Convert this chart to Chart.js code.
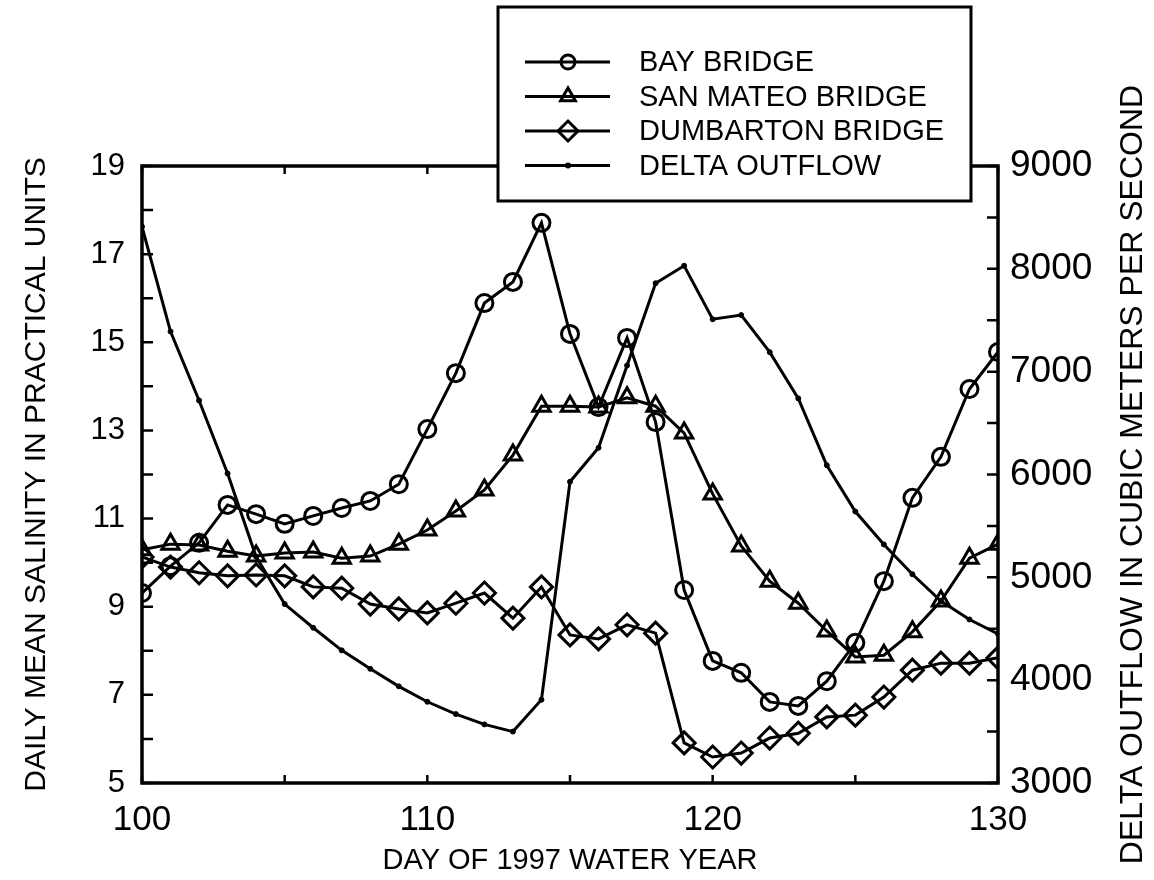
<!DOCTYPE html>
<html>
<head>
<meta charset="utf-8">
<script src="https://cdn.jsdelivr.net/npm/chart.js@4.4.0/dist/chart.umd.min.js"></script>
<style>
  body { margin: 0; background: #ffffff; }
  canvas { display: block; }
</style>
</head>
<body>
<canvas id="grafico" width="1154" height="880"></canvas>
<script>
//-------------------------- dados --------------------------
const dias = [100, 101, 102, 103, 104, 105, 106, 107, 108, 109, 110, 111, 112, 113, 114, 115,
    116, 117, 118, 119, 120, 121, 122, 123, 124, 125, 126, 127, 128, 129, 130];

const bayBridge = [9.31, 9.92, 10.45, 11.31, 11.1, 10.88, 11.06, 11.24, 11.4, 11.78, 13.03,
    14.3, 15.89, 16.37, 17.71, 15.19, 13.53, 15.1, 13.19, 9.38, 7.77, 7.5, 6.84, 6.75, 7.31,
    8.18, 9.58, 11.47, 12.4, 13.94, 14.78];

const sanMateo = [10.29, 10.42, 10.4, 10.26, 10.15, 10.22, 10.24, 10.1, 10.15, 10.42, 10.74,
    11.17, 11.65, 12.44, 13.55, 13.55, 13.53, 13.74, 13.55, 12.94, 11.56, 10.38, 9.58, 9.08,
    8.45, 7.86, 7.9, 8.43, 9.13, 10.1, 10.42];

const dumbarton = [10.13, 9.9, 9.77, 9.7, 9.72, 9.7, 9.45, 9.42, 9.06, 8.95, 8.86, 9.08, 9.31,
    8.74, 9.45, 8.36, 8.27, 8.59, 8.4, 5.91, 5.59, 5.68, 6.02, 6.13, 6.5, 6.54, 6.95, 7.56,
    7.72, 7.72, 7.84];

const deltaOutflow = [8410, 7390, 6720, 6010, 5200, 4740, 4510, 4290, 4110, 3940, 3790, 3670,
    3570, 3500, 3810, 5930, 6260, 7060, 7860, 8030, 7510, 7550, 7190, 6740, 6090, 5640, 5320,
    5030, 4770, 4590, 4450];

const nomesSeries = ["BAY BRIDGE", "SAN MATEO BRIDGE", "DUMBARTON BRIDGE", "DELTA OUTFLOW"];

const ticksX = [100, 110, 120, 130];
const ticksSalinidade = [5, 7, 9, 11, 13, 15, 17, 19];
const ticksVazao = [3000, 4000, 5000, 6000, 7000, 8000, 9000];

const tituloX = "DAY OF 1997 WATER YEAR";
const tituloEsq = "DAILY MEAN SALINITY IN PRACTICAL UNITS";
const tituloDir = "DELTA OUTFLOW IN CUBIC METERS PER SECOND";

//-------------------------- estilo --------------------------
const FONTE = "'Liberation Sans', Arial, sans-serif";
const PRETO = "#000000";
const VAZIO = "rgba(0,0,0,0)";

function pontos(valores) {
    return dias.map((d, i) => ({ x: d, y: valores[i] }));
}

function desenharMarcador(ctx, estilo, x, y, r) {
    ctx.beginPath();
    if (estilo === "circle") {
        ctx.arc(x, y, r, 0, Math.PI * 2);
        ctx.stroke();
    } else if (estilo === "triangle") {
        ctx.moveTo(x, y - r);
        ctx.lineTo(x + r * 0.866, y + r * 0.5);
        ctx.lineTo(x - r * 0.866, y + r * 0.5);
        ctx.closePath();
        ctx.stroke();
    } else if (estilo === "rectRot") {
        ctx.moveTo(x - r, y);
        ctx.lineTo(x, y - r);
        ctx.lineTo(x + r, y);
        ctx.lineTo(x, y + r);
        ctx.closePath();
        ctx.stroke();
    } else {
        ctx.arc(x, y, r, 0, Math.PI * 2);
        ctx.fill();
    }
}

// moldura, ticks para dentro, titulo da direita e legenda
const molduraPlugin = {
    id: "moldura",
    afterDatasetsDraw(chart) {
        const ctx = chart.ctx;
        const { left, right, top, bottom } = chart.chartArea;
        const sx = chart.scales.x;
        const sy = chart.scales.y;
        const sy2 = chart.scales.y2;

        ctx.save();
        ctx.strokeStyle = PRETO;
        ctx.fillStyle = PRETO;
        ctx.lineWidth = 3.5;
        ctx.strokeRect(left, top, right - left, bottom - top);

        ctx.lineWidth = 2.5;
        ctx.beginPath();
        for (let d = sx.min; d <= sx.max; d += 5) {
            const px = sx.getPixelForValue(d);
            ctx.moveTo(px, bottom);
            ctx.lineTo(px, bottom - 8);
            ctx.moveTo(px, top);
            ctx.lineTo(px, top + 8);
        }
        for (let v = sy.min; v <= sy.max; v += 1) {
            const py = sy.getPixelForValue(v);
            ctx.moveTo(left, py);
            ctx.lineTo(left + 11, py);
        }
        for (let v = sy2.min; v <= sy2.max; v += 500) {
            const py = sy2.getPixelForValue(v);
            ctx.moveTo(right, py);
            ctx.lineTo(right - 11, py);
        }
        ctx.stroke();

        // titulo do eixo direito (lido de baixo para cima)
        ctx.save();
        ctx.translate(1133, (top + bottom) / 2);
        ctx.rotate(-Math.PI / 2);
        ctx.font = "32px " + FONTE;
        ctx.textAlign = "center";
        ctx.textBaseline = "middle";
        ctx.fillText(tituloDir, 0, 0);
        ctx.restore();

        // legenda
        const caixa = { x: 498, y: 7, w: 473, h: 194 };
        ctx.fillStyle = "#ffffff";
        ctx.fillRect(caixa.x, caixa.y, caixa.w, caixa.h);
        ctx.lineWidth = 3;
        ctx.strokeRect(caixa.x, caixa.y, caixa.w, caixa.h);

        ctx.fillStyle = PRETO;
        ctx.font = "29px " + FONTE;
        ctx.textBaseline = "middle";
        ctx.textAlign = "left";
        const tamanhos = { circle: 7, triangle: 8.5, rectRot: 10, dot: 3 };
        chart.data.datasets.forEach((ds, i) => {
            const ly = 62 + i * 34.5;
            ctx.lineWidth = 3;
            ctx.beginPath();
            ctx.moveTo(525, ly);
            ctx.lineTo(610, ly);
            ctx.stroke();
            desenharMarcador(ctx, ds.marcador, 568, ly, tamanhos[ds.marcador]);
            ctx.fillText(ds.label, 639, ly + 1);
        });
        ctx.restore();
    },
};

const serie = (label, valores, estilo, raio, eixo) => ({
    label: label,
    marcador: estilo,
    data: pontos(valores),
    yAxisID: eixo,
    borderColor: PRETO,
    borderWidth: 3,
    pointStyle: estilo === "dot" ? "circle" : estilo,
    pointRadius: raio,
    pointBorderWidth: estilo === "dot" ? 1 : 3,
    pointBorderColor: PRETO,
    pointBackgroundColor: estilo === "dot" ? PRETO : VAZIO,
    tension: 0,
});

new Chart(document.getElementById("grafico").getContext("2d"), {
    type: "line",
    data: {
        datasets: [
            serie(nomesSeries[0], bayBridge, "circle", 8.5, "y"),
            serie(nomesSeries[1], sanMateo, "triangle", 10, "y"),
            serie(nomesSeries[2], dumbarton, "rectRot", 11, "y"),
            serie(nomesSeries[3], deltaOutflow, "dot", 2.5, "y2"),
        ],
    },
    options: {
        responsive: false,
        animation: false,
        layout: { padding: { top: 166, left: 0, right: 0, bottom: 0 } },
        plugins: {
            legend: { display: false },
            tooltip: { enabled: false },
        },
        scales: {
            x: {
                type: "linear",
                min: 100,
                max: 130,
                afterBuildTicks: (s) => { s.ticks = ticksX.map((v) => ({ value: v })); },
                afterFit: (s) => { s.height = 97; },
                grid: { display: false, drawTicks: false },
                border: { display: false },
                ticks: {
                    color: PRETO,
                    font: { family: FONTE, size: 35 },
                    padding: 16,
                    maxRotation: 0,
                    autoSkip: false,
                },
                title: {
                    display: true,
                    text: tituloX,
                    color: PRETO,
                    font: { family: FONTE, size: 29 },
                    padding: { top: 0, bottom: 2 },
                },
            },
            y: {
                position: "left",
                min: 5,
                max: 19,
                afterBuildTicks: (s) => { s.ticks = ticksSalinidade.map((v) => ({ value: v })); },
                afterFit: (s) => { s.width = 142; },
                grid: { display: false, drawTicks: false },
                border: { display: false },
                ticks: {
                    color: PRETO,
                    font: { family: FONTE, size: 31 },
                    padding: 17,
                },
                title: {
                    display: true,
                    text: tituloEsq,
                    color: PRETO,
                    font: { family: FONTE, size: 30 },
                    padding: { top: 19, bottom: 0 },
                },
            },
            y2: {
                position: "right",
                min: 3000,
                max: 9000,
                afterBuildTicks: (s) => { s.ticks = ticksVazao.map((v) => ({ value: v })); },
                afterFit: (s) => { s.width = 156; },
                grid: { display: false, drawTicks: false },
                border: { display: false },
                ticks: {
                    color: PRETO,
                    font: { family: FONTE, size: 37 },
                    padding: 12,
                    callback: (v) => String(v),
                },
            },
        },
    },
    plugins: [molduraPlugin],
});
</script>
</body>
</html>
